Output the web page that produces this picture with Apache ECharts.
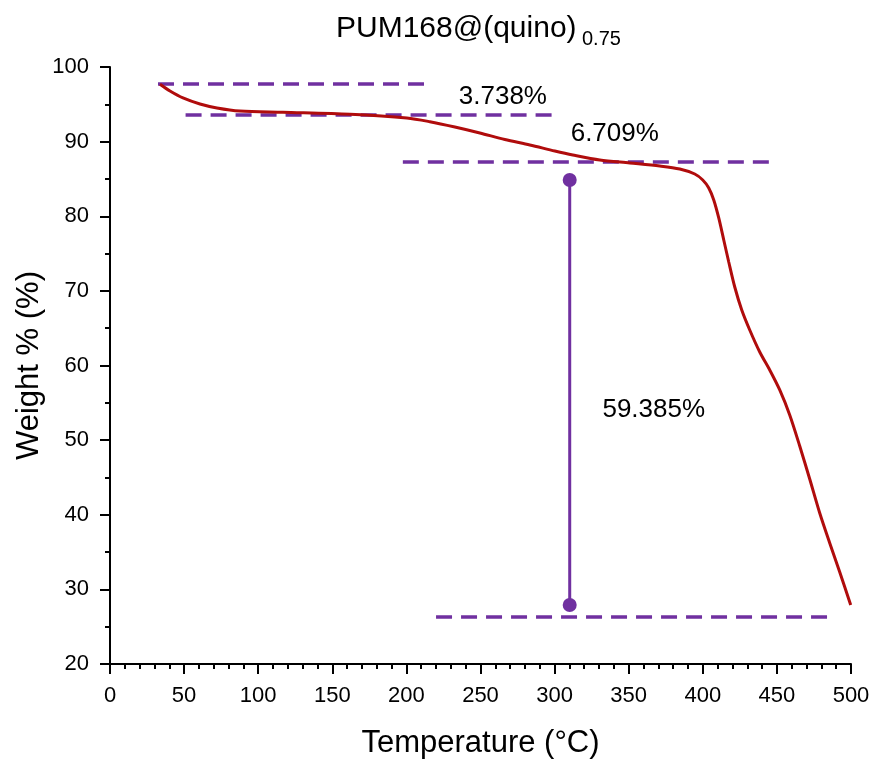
<!DOCTYPE html>
<html>
<head>
<meta charset="utf-8">
<script src="https://cdn.jsdelivr.net/npm/echarts@6/dist/echarts.min.js"></script>
<style>html,body{margin:0;padding:0;background:#fff}#c{width:876px;height:761px}</style>
</head>
<body>
<div id="c"></div>
<script>
// Temperature (°C) vs Weight %
const curveT = [33.72, 40.47, 49.24, 60.70, 72.17, 87.68, 116.69, 161.88, 200.32, 215.84, 232.70, 249.56, 266.42, 283.29, 300.15, 312.29, 330.50, 350.73, 370.97, 384.46, 394.58, 399.97, 404.02, 407.39, 410.76, 414.14, 417.51, 421.56, 426.28, 431.67, 438.42, 445.16, 451.91, 458.65, 465.40, 472.14, 478.89, 485.63, 492.38, 499.80];
const curveW = [97.68, 96.78, 95.85, 95.04, 94.51, 94.10, 93.93, 93.66, 93.17, 92.67, 91.96, 91.16, 90.28, 89.55, 88.74, 88.21, 87.54, 87.14, 86.73, 86.33, 85.66, 84.86, 83.79, 82.18, 79.77, 76.82, 73.87, 70.52, 67.44, 64.76, 61.81, 59.40, 56.72, 53.37, 49.21, 44.79, 40.23, 36.21, 32.33, 27.91];

// dashed reference lines: [xStart, xEnd, y]
const refLines = [
  [32.4, 217, 97.72],
  [51, 301, 93.57],
  [197.6, 447, 87.27],
  [220, 488, 26.3]
];
// vertical bar: x, yTop, yBottom
const barX = 310.2, barTop = 84.86, barBottom = 27.9;

// annotation labels: [x, y, text]
const notes = [
  [265.1, 96.05, '3.738%'],
  [340.6, 91.02, '6.709%'],
  [366.9, 54.04, '59.385%']
];

const xTicks = {min: 0, max: 500, interval: 50};
const yTicks = {min: 20, max: 100, interval: 10};

const PURPLE = '#7030a0';
const RED = '#b00c0c';
const FONT = 'Liberation Sans';

const series = [];
series.push({
  type: 'line', smooth: 0.3, symbol: 'none',
  data: curveT.map((t, i) => [t, curveW[i]]),
  lineStyle: {color: RED, width: 3}, z: 3
});
refLines.forEach(r => series.push({
  type: 'line', symbol: 'none',
  data: [[r[0], r[2]], [r[1], r[2]]],
  lineStyle: {color: PURPLE, width: 3.5, type: [16, 9]}, z: 2
}));
series.push({
  type: 'line', symbol: 'circle', symbolSize: 14,
  data: [[barX, barTop], [barX, barBottom]],
  lineStyle: {color: PURPLE, width: 3}, itemStyle: {color: PURPLE}, z: 4
});
series.push({
  type: 'scatter', symbolSize: 1, silent: true,
  itemStyle: {color: 'rgba(0,0,0,0)', opacity: 1},
  data: notes.map(n => ({value: [n[0], n[1]], name: n[2]})),
  label: {show: true, position: 'inside', formatter: p => p.name, color: '#000', opacity: 1, fontSize: 26, fontFamily: FONT},
  z: 5
});

const axisCommon = {
  axisLine: {show: true, lineStyle: {color: '#000', width: 2}},
  axisTick: {show: true, inside: false, length: 10, lineStyle: {color: '#000', width: 2}},
  minorTick: {show: true, length: 5, lineStyle: {color: '#000', width: 2}},
  splitLine: {show: false},
  minorSplitLine: {show: false},
  axisLabel: {color: '#000', fontSize: 22, fontFamily: FONT},
  nameLocation: 'middle',
  nameMoveOverlap: false,
  nameTextStyle: {color: '#000', fontSize: 31, fontFamily: FONT}
};

const chart = echarts.init(document.getElementById('c'));
chart.setOption({
  animation: false,
  backgroundColor: '#fff',
  title: [
    {text: 'PUM168@(quino)', left: 336, top: 14, padding: 0,
     textStyle: {fontSize: 30, fontWeight: 'normal', fontFamily: FONT, color: '#000'}},
    {text: '0.75', left: 582, top: 29, padding: 0,
     textStyle: {fontSize: 20, fontWeight: 'normal', fontFamily: FONT, color: '#000'}}
  ],
  grid: {left: 110, right: 25, top: 67, bottom: 97, containLabel: false, outerBoundsMode: 'none'},
  xAxis: Object.assign({}, axisCommon, {
    type: 'value', min: xTicks.min, max: xTicks.max, interval: xTicks.interval,
    name: 'Temperature (°C)', nameGap: 64,
    minorTick: Object.assign({}, axisCommon.minorTick, {splitNumber: 5}),
    axisLabel: Object.assign({}, axisCommon.axisLabel, {margin: 21})
  }),
  yAxis: Object.assign({}, axisCommon, {
    type: 'value', min: yTicks.min, max: yTicks.max, interval: yTicks.interval,
    name: 'Weight % (%)', nameGap: 65,
    minorTick: Object.assign({}, axisCommon.minorTick, {splitNumber: 2}),
    axisLabel: Object.assign({}, axisCommon.axisLabel, {margin: 21})
  }),
  series: series
});
</script>
</body>
</html>
